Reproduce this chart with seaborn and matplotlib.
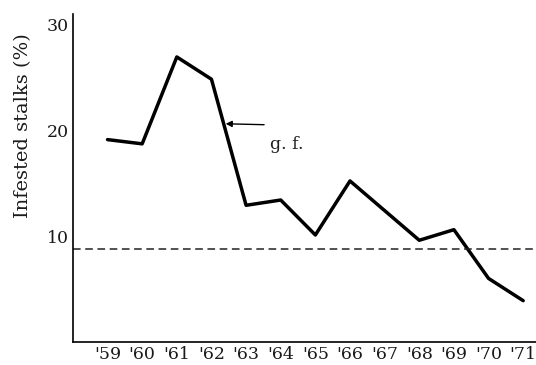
import numpy as np
import pandas as pd
import matplotlib
matplotlib.use('Agg')
import matplotlib.pyplot as plt
import seaborn as sns

# Data
years = [1959, 1960, 1961, 1962, 1963, 1964, 1965, 1966, 1967, 1968, 1969, 1970, 1971]
year_labels = ["'59", "'60", "'61", "'62", "'63", "'64", "'65", "'66", "'67", "'68", "'69", "'70", "'71"]
infested = [19.1, 18.7, 26.9, 24.8, 12.9, 13.4, 10.1, 15.2, 12.4, 9.6, 10.6, 6.0, 3.9]
threshold = 8.8

df = pd.DataFrame({'year': years, 'infested': infested})

sns.set_theme(style='white')
plt.rcParams['font.family'] = ['DejaVu Serif']

fig = plt.figure(figsize=(5.36, 3.65), dpi=100)
ax = fig.add_axes([0.136, 0.063, 0.864, 0.90])

sns.lineplot(data=df, x='year', y='infested', color='black', linewidth=2.5, ax=ax)
ax.axhline(threshold, color='#222222', linestyle=(0, (5, 3)), linewidth=1.1)

ax.annotate('', xy=(1962.33, 20.6), xytext=(1963.6, 20.5),
            arrowprops=dict(arrowstyle='-|>', color='black', lw=1.0, mutation_scale=9))
ax.text(1963.7, 18.6, 'g. f.', fontsize=12.5, va='center', ha='left', color='#222222')

ax.set_xlim(1958.0, 1971.37)
ax.set_ylim(0, 31)
ax.set_xticks(years)
ax.set_xticklabels(year_labels, fontsize=12.5, color='#1a1a1a')
ax.set_yticks([10, 20, 30])
ax.set_yticklabels(['10', '20', '30'], fontsize=12.5, color='#1a1a1a')
ax.tick_params(axis='both', direction='in', length=5, width=1.0, color='black', pad=3)
ax.set_xlabel('')
ax.set_ylabel('Infested stalks (%)', fontsize=14, color='#1a1a1a')
ax.yaxis.set_label_coords(-0.088, 0.66)

for side in ['top', 'right']:
    ax.spines[side].set_visible(False)
for side in ['left', 'bottom']:
    ax.spines[side].set_color('black')
    ax.spines[side].set_linewidth(1.2)

plt.savefig('out.png', dpi=100)
